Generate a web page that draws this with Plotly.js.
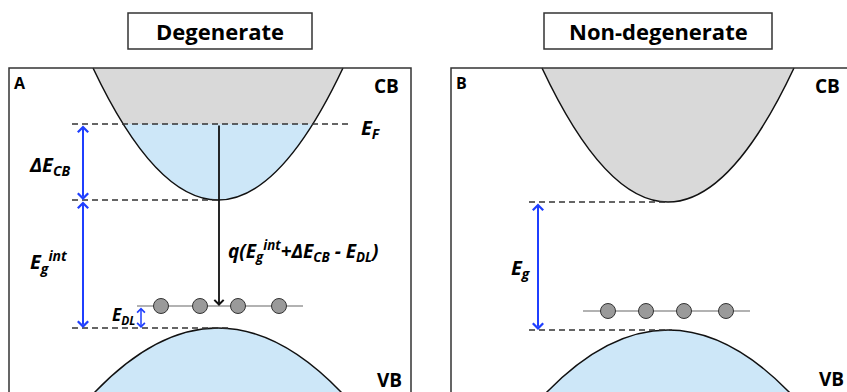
<!DOCTYPE html>
<html>
<head>
<meta charset="utf-8">
<script src="https://cdn.plot.ly/plotly-3.0.1.min.js"></script>
<style>html,body{margin:0;padding:0;background:#fff;}#chart{width:847px;height:392px;}</style>
</head>
<body>
<div id="chart"></div>
<script>
// ---- schematic data (diagram units, y grows downward) ----
const panelLetters = ['A', 'B'];
const panelTitles = ['Degenerate', 'Non-degenerate'];
const bandCenterX = [218, 668];        // k = 0 position of the bands
const cbMinY = [200, 202];             // conduction band minimum
const vbMaxY = [328, 330];             // valence band maximum
const cbCurvature = [0.00845, 0.00844];
const vbCurvature = [0.00423, 0.00423];
const fermiY = 124;                    // Fermi level (degenerate panel)
const defectLevelY = [306, 311];       // deep-level defect energy
const defectSitesX = [[161, 200, 238, 279], [608, 646, 684, 726]];
const labelsA = {
  dCB: '<b><i>ΔE<sub>CB</sub></i></b>',
  egInt: '<b><i>E<sub>g</sub><sup>int</sup></i></b>',
  eDL: '<b><i>E<sub>DL</sub></i></b>',
  eF: '<b><i>E<sub>F</sub></i></b>',
  trans: '<b><i>q(E<sub>g</sub><sup>int</sup>+ΔE<sub>CB</sub> - E<sub>DL</sub>)</i></b>'
};
const labelEgB = '<b><i>E<sub>g</sub></i></b>';

// ---- layout geometry ----
const FONT = '"Open Sans", Lato, sans-serif';
const boxTop = 68;
const panelBox = [[9, 411], [451, 900]];
const titleBox = [[128, 312], [544, 772]];
const dashColor = '#333';
const blue = '#1f3fff';
const grayFill = '#d9d9d9';
const blueFill = '#cde7f8';

function parabola(xv, yv, k, yEnd) {
  const d = Math.sqrt(Math.abs((yEnd - yv) / k));
  return {d: d, path: `M${xv - d},${yEnd} Q${xv},${2 * yv - yEnd} ${xv + d},${yEnd}`};
}

const shapes = [];
const annotations = [];
const traces = [];

for (let p = 0; p < 2; p++) {
  const xv = bandCenterX[p];
  // conduction band
  const cb = parabola(xv, cbMinY[p], cbCurvature[p], boxTop);
  shapes.push({type: 'path', xref: 'x', yref: 'y', path: cb.path + ' Z', fillcolor: grayFill, line: {width: 0}});
  if (p === 0) {
    const filled = parabola(xv, cbMinY[p], cbCurvature[p], fermiY);
    shapes.push({type: 'path', xref: 'x', yref: 'y', path: filled.path + ' Z', fillcolor: blueFill, line: {width: 0}});
  }
  shapes.push({type: 'path', xref: 'x', yref: 'y', path: cb.path, line: {color: '#111', width: 1.5}});
  // valence band
  const vb = parabola(xv, vbMaxY[p], vbCurvature[p], 420);
  shapes.push({type: 'path', xref: 'x', yref: 'y', path: vb.path + ' Z', fillcolor: blueFill, line: {width: 0}});
  shapes.push({type: 'path', xref: 'x', yref: 'y', path: vb.path, line: {color: '#111', width: 1.5}});
  // panel box
  shapes.push({type: 'rect', xref: 'x', yref: 'y', x0: panelBox[p][0], x1: panelBox[p][1], y0: boxTop, y1: 420,
    line: {color: '#333', width: 1.5}, fillcolor: 'rgba(0,0,0,0)'});
  // title box
  shapes.push({type: 'rect', xref: 'x', yref: 'y', x0: titleBox[p][0], x1: titleBox[p][1], y0: 13, y1: 49,
    line: {color: '#333', width: 1.5}, fillcolor: 'rgba(0,0,0,0)'});
  annotations.push({x: (titleBox[p][0] + titleBox[p][1]) / 2, y: 31, xref: 'x', yref: 'y', showarrow: false,
    text: '<b>' + panelTitles[p] + '</b>', font: {family: FONT, size: 22, color: '#000'}});
  // panel letter
  annotations.push({x: panelBox[p][0] + 3, y: 83, xref: 'x', yref: 'y', showarrow: false, xanchor: 'left',
    text: '<b>' + panelLetters[p] + '</b>', font: {family: FONT, size: 16, color: '#000'}});
  // defect level line
  const dx = defectSitesX[p];
  shapes.push({type: 'line', xref: 'x', yref: 'y', layer: 'below', x0: dx[0] - (p === 0 ? 24 : 25), x1: dx[3] + 24,
    y0: defectLevelY[p], y1: defectLevelY[p], line: {color: '#666', width: 1.2}});
  traces.push({type: 'scatter', mode: 'markers', x: dx, y: dx.map(() => defectLevelY[p]), hoverinfo: 'skip',
    marker: {size: 15, color: '#9a9a9a', line: {color: '#333', width: 1}}, showlegend: false});
}

// band labels
annotations.push({x: 386, y: 86, text: '<b>CB</b>'}, {x: 389, y: 380, text: '<b>VB</b>'},
  {x: 827, y: 86, text: '<b>CB</b>'}, {x: 831, y: 379, text: '<b>VB</b>'});
for (let i = annotations.length - 4; i < annotations.length; i++) {
  Object.assign(annotations[i], {xref: 'x', yref: 'y', showarrow: false, font: {family: FONT, size: 19, color: '#000'}});
}

// dashed reference lines
function dashed(x0, x1, y) {
  shapes.push({type: 'line', xref: 'x', yref: 'y', x0: x0, x1: x1, y0: y, y1: y, line: {color: dashColor, width: 1.5, dash: '6px,4px'}});
}
dashed(72, 352, fermiY);
dashed(72, bandCenterX[0], cbMinY[0]);
dashed(72, bandCenterX[0] + 10, vbMaxY[0]);
dashed(529, bandCenterX[1], cbMinY[1]);
dashed(529, bandCenterX[1] + 4, vbMaxY[1]);

// arrows
function dblArrow(x, y0, y1, color, w) {
  annotations.push({x: x, y: y1, ax: x, ay: y0, xref: 'x', yref: 'y', axref: 'x', ayref: 'y', text: '',
    showarrow: true, arrowside: 'end+start', arrowhead: 4, startarrowhead: 4, arrowsize: 1, startarrowsize: 1,
    arrowwidth: w, arrowcolor: color, standoff: 0, startstandoff: 0});
}
dblArrow(83, fermiY, cbMinY[0], blue, 2);
dblArrow(83, cbMinY[0], vbMaxY[0], blue, 2);
dblArrow(141, defectLevelY[0], vbMaxY[0], blue, 1.5);
dblArrow(538, cbMinY[1], vbMaxY[1], blue, 2);
annotations.push({x: bandCenterX[0] + 1, y: defectLevelY[0], ax: bandCenterX[0] + 1, ay: fermiY, xref: 'x', yref: 'y',
  axref: 'x', ayref: 'y', text: '', showarrow: true, arrowhead: 4, arrowsize: 1, arrowwidth: 1.8, arrowcolor: '#111', standoff: 0});

// energy labels
function lbl(x, y, text, anchor, size) {
  annotations.push({x: x, y: y, xref: 'x', yref: 'y', text: text, showarrow: false, xanchor: anchor,
    font: {family: FONT, size: size, color: '#000'}});
}
lbl(73, 165, labelsA.dCB, 'right', 20);
lbl(70, 262, labelsA.egInt, 'right', 20);
lbl(137, 315, labelsA.eDL, 'right', 17);
lbl(359, 128, labelsA.eF, 'left', 20);
lbl(226, 251, labelsA.trans, 'left', 19);
lbl(533, 268, labelEgB, 'right', 20);

const layout = {
  width: 847, height: 392,
  margin: {l: 0, r: 0, t: 0, b: 0},
  paper_bgcolor: '#fff', plot_bgcolor: '#fff',
  xaxis: {range: [0, 847], visible: false, fixedrange: true},
  yaxis: {range: [392, 0], visible: false, fixedrange: true},
  shapes: shapes, annotations: annotations, showlegend: false
};
Plotly.newPlot('chart', traces, layout, {staticPlot: true});
</script>
</body>
</html>
